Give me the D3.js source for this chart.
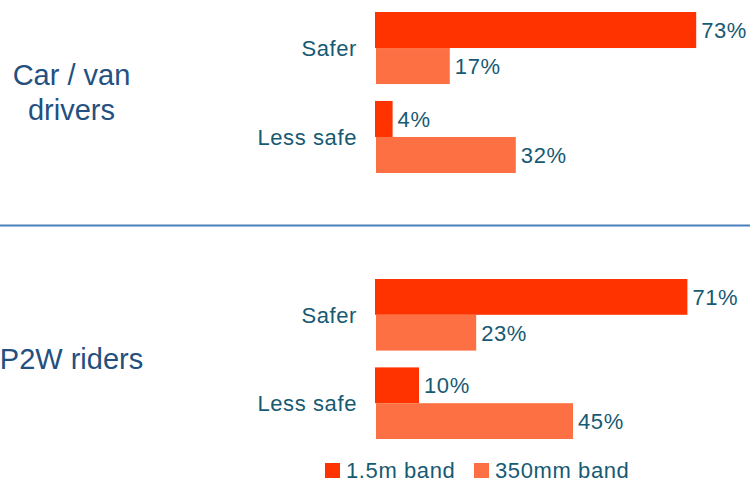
<!DOCTYPE html>
<html>
<head>
<meta charset="utf-8">
<script src="https://cdn.jsdelivr.net/npm/d3@7"></script>
<style>
  body { margin: 0; background: #fff; }
  svg { font-family: "Liberation Sans", Arial, sans-serif; }
</style>
</head>
<body>
<svg width="750" height="483"></svg>
<script>
const groups = ["Car / van drivers", "P2W riders"];
const categories = ["Safer", "Less safe"];
const series = ["1.5m band", "350mm band"];
const carVan = [[73, 17], [4, 32]];
const p2w = [[71, 23], [10, 45]];
const colors = ["#ff3300", "#fd7043"];

const svg = d3.select("svg"),
    width = +svg.attr("width"),
    height = +svg.attr("height");

const x = d3.scaleLinear().domain([0, 100]).range([375, 815]);

const panels = [
    { name: groups[0], lines: ["Car / van", "drivers"], values: carVan, range: [12, 173] },
    { name: groups[1], lines: ["P2W riders"], values: p2w, range: [279, 439] }
];

const textColor = "#175a73";
const fs = "22px", ls = "0.6px";

panels.forEach(p => {
    const y = d3.scaleBand().domain(categories).range(p.range).paddingInner(0.19);
    const yi = d3.scaleBand().domain(series).range([0, y.bandwidth()]);

    const g = svg.append("g");

    categories.forEach((c, ci) => {
        const row = g.append("g").attr("transform", `translate(0,${y(c)})`);

        row.selectAll("rect")
            .data(p.values[ci])
            .enter().append("rect")
            .attr("x", (d, i) => x(0) + i)
            .attr("y", (d, i) => yi(series[i]))
            .attr("width", (d, i) => x(d) - x(0) - i)
            .attr("height", yi.bandwidth())
            .attr("fill", (d, i) => colors[i]);

        row.selectAll(".val")
            .data(p.values[ci])
            .enter().append("text")
            .attr("class", "val")
            .attr("x", d => x(d) + 5)
            .attr("y", (d, i) => yi(series[i]) + yi.bandwidth() / 2)
            .attr("dy", "0.36em")
            .attr("fill", textColor)
            .style("font-size", fs)
            .style("letter-spacing", ls)
            .text(d => d + "%");

        row.append("text")
            .attr("x", 357)
            .attr("y", y.bandwidth() / 2)
            .attr("dy", "0.36em")
            .attr("text-anchor", "end")
            .attr("fill", textColor)
            .style("font-size", fs)
            .style("letter-spacing", ls)
            .text(c);
    });

    // panel title
    const mid = (p.range[0] + p.range[1]) / 2;
    const lh = 35;
    const t = g.append("text")
        .attr("text-anchor", "middle")
        .attr("fill", "#23507f")
        .style("font-size", "29px");
    p.lines.forEach((l, i) => {
        t.append("tspan")
            .attr("x", 71.5)
            .attr("y", mid + 10 + (i - (p.lines.length - 1) / 2) * lh)
            .text(l);
    });
});

// divider
svg.append("line")
    .attr("x1", 0).attr("x2", width)
    .attr("y1", 225.5).attr("y2", 225.5)
    .attr("stroke", "#4a7ebb")
    .attr("stroke-width", 2);

// legend
const legendX = [325, 474];
const legend = svg.selectAll(".legend")
    .data(series)
    .enter().append("g")
    .attr("class", "legend")
    .attr("transform", (d, i) => `translate(${legendX[i]},463)`);

legend.append("rect")
    .attr("width", 15).attr("height", 15)
    .attr("fill", (d, i) => colors[i]);

legend.append("text")
    .attr("x", 21)
    .attr("y", 7.5)
    .attr("dy", "0.36em")
    .attr("fill", textColor)
    .style("font-size", fs)
    .style("letter-spacing", ls)
    .text(d => d);
</script>
</body>
</html>
